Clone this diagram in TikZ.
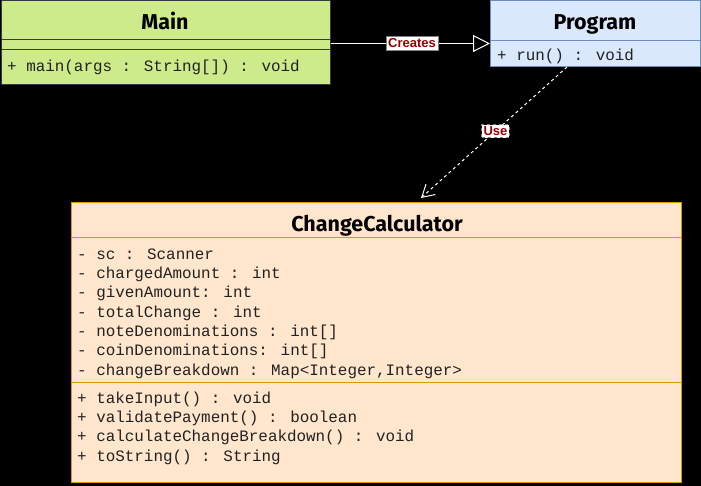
\documentclass[tikz,border=0pt]{standalone}
\usepackage{fontspec}
\usetikzlibrary{arrows.meta,calc}
\newfontfamily\titlefont{Fira Sans}
\newfontfamily\codefont{Liberation Mono}
\newfontfamily\lblfont{Liberation Sans}
\definecolor{mainfill}{HTML}{CDEB8B}
\definecolor{mainline}{HTML}{36393D}
\definecolor{progfill}{HTML}{DAE8FC}
\definecolor{progline}{HTML}{6C8EBF}
\definecolor{ccfill}{HTML}{FFE6CC}
\definecolor{ccline}{HTML}{D79B00}
\definecolor{lblred}{HTML}{990000}
\definecolor{codecol}{HTML}{222222}
\tikzset{
  umlbox/.style={rectangle, line width=1pt, inner sep=0pt, anchor=north west},
  titletxt/.style={inner sep=0pt, anchor=base, font=\titlefont\bfseries\fontsize{21.5}{24}\selectfont},
  codetxt/.style={inner sep=0pt, anchor=base west, text=codecol, font=\codefont\fontsize{15.9}{19}\selectfont},
  lbl/.style={fill=white, draw=gray, line width=0.8pt, inner xsep=2pt, inner ysep=2pt, text=lblred, font=\lblfont\bfseries\fontsize{13}{14}\selectfont},
  conn/.style={white, line width=1pt}
}
\begin{document}
\begin{tikzpicture}[x=1pt,y=-1pt]
\fill[black] (0,0) rectangle (701,486);
\useasboundingbox (0,0) rectangle (701,486);

% Main
\node[umlbox, fill=mainfill, draw=mainline, minimum width=329.5pt, minimum height=83.5pt] (main) at (0.5,0.5) {};
\node[titletxt] (maint) at (165,30) {Main};
\draw[mainline, line width=1pt] (main.west |- 0,40) coordinate (m1) -- (main.east |- 0,40) coordinate (m2);
\draw[mainline, line width=1pt] (main.west |- 0,50) coordinate (m3) -- (main.east |- 0,50) coordinate (m4);
\node[codetxt] (mainop) at (7,72) {+ main(args : String[]) : void};

% Program
\node[umlbox, fill=progfill, draw=progline, minimum width=209.5pt, minimum height=65.5pt] (prog) at (490,0.5) {};
\node[titletxt] (progt) at (595,30) {Program};
\draw[progline, line width=1pt] (prog.west |- 0,41) coordinate (p1) -- (prog.east |- 0,41) coordinate (p2);
\node[codetxt] (progop) at (497,61) {+ run() : void};

% ChangeCalculator
\node[umlbox, fill=ccfill, draw=ccline, minimum width=610.5pt, minimum height=280pt] (cc) at (70.5,202) {};
\node[titletxt] (cct) at (377,232) {ChangeCalculator};
\draw[ccline, line width=1pt] (cc.west |- 0,238) coordinate (c1) -- (cc.east |- 0,238) coordinate (c2);
\draw[ccline, line width=1pt] (cc.west |- 0,382) coordinate (c3) -- (cc.east |- 0,382) coordinate (c4);
\node[codetxt] (a1) at (77,260) {- sc : Scanner};
\node[codetxt] (a2) at (77,279) {- chargedAmount : int};
\node[codetxt] (a3) at (77,298) {- givenAmount: int};
\node[codetxt] (a4) at (77,317.5) {- totalChange : int};
\node[codetxt] (a5) at (77,336.5) {- noteDenominations : int[]};
\node[codetxt] (a6) at (77,355.5) {- coinDenominations: int[]};
\node[codetxt] (a7) at (77,375) {- changeBreakdown : Map<Integer,Integer>};
\node[codetxt] (o1) at (77,403) {+ takeInput() : void};
\node[codetxt] (o2) at (77,422.5) {+ validatePayment() : boolean};
\node[codetxt] (o3) at (77,441.5) {+ calculateChangeBreakdown() : void};
\node[codetxt] (o4) at (77,461.5) {+ toString() : String};

% Connectors
\draw[conn, -{Triangle[open, length=17pt, width=17pt]}] (main.east |- 0,43.5) -- (prog.west |- 0,43.5)
  node[lbl, pos=0.51] (lc) {Creates};
\coordinate (us) at ($(prog.south west)+(77,0)$);
\coordinate (ue) at ($(cc.north west)+(350.5,-4)$);
\draw[conn, dash pattern=on 3pt off 3pt, -{Straight Barb[length=12pt, width=14pt, line width=1pt, sep=0pt]}] (us) -- (ue)
  node[lbl, pos=0.49] (lu) {Use};
\end{tikzpicture}
\end{document}
